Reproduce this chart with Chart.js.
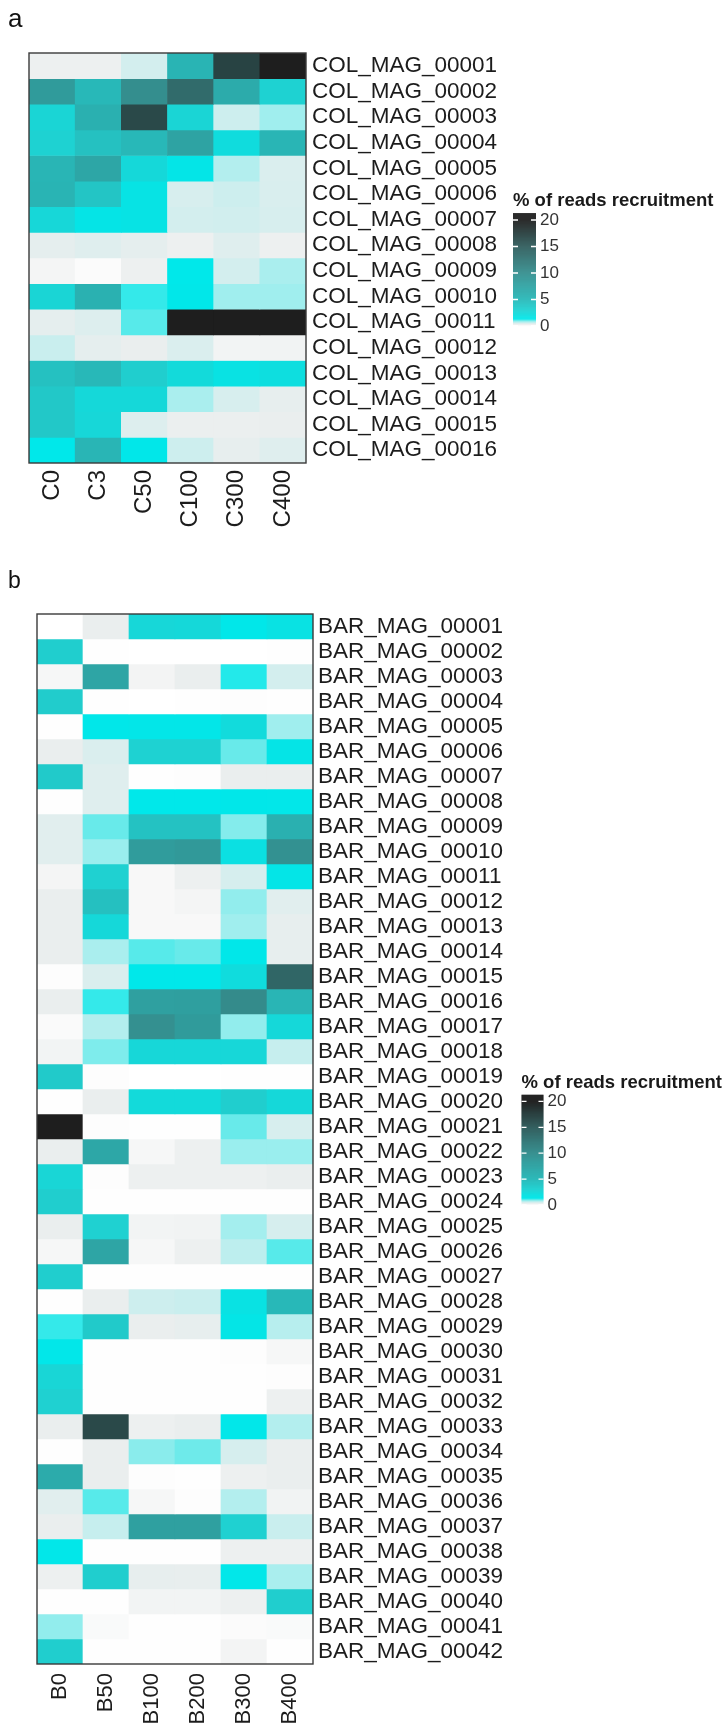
<!DOCTYPE html>
<html>
<head>
<meta charset="utf-8">
<script src="https://cdn.jsdelivr.net/npm/chart.js@4.4.1/dist/chart.umd.min.js"></script>
<style>
  html, body { margin: 0; padding: 0; background: #ffffff; }
  body { width: 727px; height: 1724px; position: relative; overflow: hidden; }
  canvas { position: absolute; left: 0; display: block; }
</style>
</head>
<body>
<canvas id="panelA" width="727" height="560" style="top:0px"></canvas>
<canvas id="panelB" width="727" height="1164" style="top:560px"></canvas>
<script>
// ---- samples (heatmap columns) ----
const colSamples = ['C0', 'C3', 'C50', 'C100', 'C300', 'C400'];
const barSamples = ['B0', 'B50', 'B100', 'B200', 'B300', 'B400'];

// ---- genomes (heatmap rows) ----
const colMags = [
  'COL_MAG_00001', 'COL_MAG_00002', 'COL_MAG_00003', 'COL_MAG_00004',
  'COL_MAG_00005', 'COL_MAG_00006', 'COL_MAG_00007', 'COL_MAG_00008',
  'COL_MAG_00009', 'COL_MAG_00010', 'COL_MAG_00011', 'COL_MAG_00012',
  'COL_MAG_00013', 'COL_MAG_00014', 'COL_MAG_00015', 'COL_MAG_00016'
];
const barMags = [
  'BAR_MAG_00001', 'BAR_MAG_00002', 'BAR_MAG_00003', 'BAR_MAG_00004',
  'BAR_MAG_00005', 'BAR_MAG_00006', 'BAR_MAG_00007', 'BAR_MAG_00008',
  'BAR_MAG_00009', 'BAR_MAG_00010', 'BAR_MAG_00011', 'BAR_MAG_00012',
  'BAR_MAG_00013', 'BAR_MAG_00014', 'BAR_MAG_00015', 'BAR_MAG_00016',
  'BAR_MAG_00017', 'BAR_MAG_00018', 'BAR_MAG_00019', 'BAR_MAG_00020',
  'BAR_MAG_00021', 'BAR_MAG_00022', 'BAR_MAG_00023', 'BAR_MAG_00024',
  'BAR_MAG_00025', 'BAR_MAG_00026', 'BAR_MAG_00027', 'BAR_MAG_00028',
  'BAR_MAG_00029', 'BAR_MAG_00030', 'BAR_MAG_00031', 'BAR_MAG_00032',
  'BAR_MAG_00033', 'BAR_MAG_00034', 'BAR_MAG_00035', 'BAR_MAG_00036',
  'BAR_MAG_00037', 'BAR_MAG_00038', 'BAR_MAG_00039', 'BAR_MAG_00040',
  'BAR_MAG_00041', 'BAR_MAG_00042'
];

// ---- % of reads recruited, one row per genome, one value per sample ----
const colRecruit = [
  [0.25, 0.25, 0.5, 5.5, 17, 21.3],
  [8.5, 5, 10, 13.5, 6.5, 3],
  [2.8, 6, 16.5, 2.8, 0.55, 0.8],
  [3, 4.3, 5, 7.5, 2.2, 5.3],
  [5.3, 7.2, 2.5, 1.5, 0.7, 0.45],
  [5.5, 4, 1.7, 0.47, 0.55, 0.46],
  [2.6, 1.6, 1.7, 0.5, 0.52, 0.47],
  [0.35, 0.4, 0.35, 0.25, 0.4, 0.25],
  [0.15, 0.06, 0.25, 1.3, 0.5, 0.75],
  [2.8, 5.8, 1.15, 1.35, 0.8, 0.8],
  [0.35, 0.42, 1.05, 21.3, 21.3, 21.3],
  [0.58, 0.35, 0.3, 0.45, 0.18, 0.2],
  [4.3, 5, 3.3, 2.4, 1.8, 2.1],
  [3.8, 2.5, 2.5, 0.75, 0.47, 0.33],
  [3.8, 2.6, 0.42, 0.28, 0.28, 0.3],
  [1.3, 5.3, 1.35, 0.55, 0.33, 0.4]
];
const barRecruit = [
  [0, 0.3, 2.6, 2.5, 1.35, 1.8],
  [3.3, 0.02, 0, 0, 0, 0.02],
  [0.12, 7.3, 0.17, 0.3, 1.2, 0.5],
  [3.5, 0.02, 0, 0.01, 0.03, 0.02],
  [0.02, 1.35, 1.45, 1.45, 2.3, 0.8],
  [0.3, 0.45, 3, 3, 1.0, 1.6],
  [3.6, 0.4, 0.02, 0.03, 0.3, 0.3],
  [0.02, 0.4, 1.3, 1.3, 1.35, 1.4],
  [0.38, 1.0, 4.2, 4.2, 0.9, 6],
  [0.38, 0.82, 8.3, 8.7, 1.9, 9.6],
  [0.15, 3.1, 0.1, 0.25, 0.48, 1.5],
  [0.3, 4.4, 0.1, 0.15, 0.85, 0.38],
  [0.3, 2.5, 0.1, 0.1, 0.8, 0.33],
  [0.3, 0.75, 1.05, 1.0, 1.35, 0.33],
  [0.03, 0.45, 1.3, 1.3, 2.2, 14],
  [0.3, 1.15, 7.8, 8, 10.3, 5.3],
  [0.07, 0.7, 9.8, 8.5, 0.85, 2.5],
  [0.18, 0.92, 2.6, 2.6, 2.6, 0.6],
  [3.6, 0.03, 0, 0, 0.02, 0.02],
  [0.02, 0.3, 2.4, 2.4, 3.3, 2.5],
  [20.5, 0.03, 0.02, 0.02, 1.0, 0.47],
  [0.3, 7, 0.12, 0.25, 0.82, 0.82],
  [2.7, 0.03, 0.25, 0.25, 0.25, 0.3],
  [3.3, 0.02, 0.01, 0.01, 0.01, 0.02],
  [0.3, 3.1, 0.18, 0.2, 0.78, 0.48],
  [0.12, 7.3, 0.12, 0.25, 0.65, 1.05],
  [3.3, 0.02, 0.02, 0.02, 0.02, 0.02],
  [0.02, 0.3, 0.55, 0.58, 1.8, 5],
  [1.15, 3.6, 0.3, 0.33, 1.55, 0.68],
  [1.4, 0.02, 0.01, 0.01, 0.03, 0.12],
  [2.7, 0.01, 0.01, 0.01, 0.02, 0.03],
  [3.1, 0.02, 0.01, 0.01, 0.02, 0.25],
  [0.3, 16.5, 0.25, 0.3, 1.4, 0.7],
  [0.02, 0.3, 0.88, 0.98, 0.48, 0.3],
  [6.5, 0.3, 0.03, 0.01, 0.25, 0.3],
  [0.38, 1.05, 0.12, 0.03, 0.7, 0.2],
  [0.3, 0.6, 7.8, 7.8, 3.1, 0.58],
  [1.4, 0.02, 0.02, 0.02, 0.25, 0.25],
  [0.25, 3.3, 0.33, 0.32, 1.4, 0.75],
  [0.01, 0.02, 0.18, 0.18, 0.25, 3.3],
  [0.85, 0.08, 0.02, 0.02, 0.06, 0.08],
  [3.3, 0.02, 0.01, 0.01, 0.17, 0.02]
];

// ---- colour bar ----
const legendTitle = '% of reads recruitment';
const legendTicks = [0, 5, 10, 15, 20];
const legendMax = 21.3;

// fill colour for a recruitment value (white -> cyan -> near black)
const colourStops = [
  [0, '#ffffff'], [0.15, '#f4f5f5'], [0.3, '#eaeeee'], [0.45, '#daeeee'],
  [0.6, '#c6eeee'], [0.8, '#a0eeee'], [1.0, '#68eaea'], [1.3, '#00e8ea'],
  [3, '#1ed2d2'], [5, '#28b8b8'], [10, '#348e8e'], [15, '#2f5c5c'], [20, '#1e1e1e']
];
function hexToRgb(h) {
  return [parseInt(h.slice(1, 3), 16), parseInt(h.slice(3, 5), 16), parseInt(h.slice(5, 7), 16)];
}
const stopRgb = colourStops.map(s => [s[0], hexToRgb(s[1])]);
function colourFor(v) {
  if (v <= stopRgb[0][0]) return colourStops[0][1];
  for (let k = 1; k < stopRgb.length; k++) {
    if (v <= stopRgb[k][0]) {
      const [v0, c0] = stopRgb[k - 1];
      const [v1, c1] = stopRgb[k];
      const t = (v - v0) / (v1 - v0);
      const c = c0.map((x, i) => Math.round(x + (c1[i] - x) * t));
      return `rgb(${c[0]},${c[1]},${c[2]})`;
    }
  }
  return colourStops[colourStops.length - 1][1];
}

const FONT = '"Liberation Sans", Arial, Helvetica, sans-serif';
Chart.defaults.font.family = FONT;
Chart.defaults.color = '#1c1c1c';

// frame, panel letter and colour bar
const heatmapExtras = {
  id: 'heatmapExtras',
  afterDatasetsDraw(chart, args, o) {
    const { ctx, chartArea: a } = chart;
    ctx.save();
    ctx.strokeStyle = '#3a3a3a';
    ctx.lineWidth = 1.4;
    ctx.strokeRect(a.left, a.top, a.right - a.left, a.bottom - a.top);
    ctx.restore();
  },
  afterDraw(chart, args, o) {
    const ctx = chart.ctx;
    ctx.save();
    // panel letter
    ctx.fillStyle = '#111111';
    ctx.font = `${o.letterSize}px ${FONT}`;
    ctx.textAlign = 'left';
    ctx.textBaseline = 'alphabetic';
    ctx.fillText(o.letter, o.letterX, o.letterY);

    // legend title
    ctx.fillStyle = '#1a1a1a';
    ctx.font = `bold 18.5px ${FONT}`;
    ctx.fillText(legendTitle, o.barX, o.titleY);

    // gradient bar
    const yOf = v => o.zeroY - v * o.unit;
    const yTop = yOf(legendMax), yBot = yOf(0);
    for (let y = yTop; y < yBot; y += 1) {
      const v = Math.max(0, (o.zeroY - (y + 0.5)) / o.unit);
      ctx.fillStyle = colourFor(v);
      ctx.fillRect(o.barX, y, o.barW, Math.min(1, yBot - y) + 0.3);
    }
    // tick marks + labels
    ctx.strokeStyle = '#ffffff';
    ctx.lineWidth = 1.3;
    ctx.fillStyle = '#333333';
    ctx.font = `17px ${FONT}`;
    ctx.textBaseline = 'middle';
    legendTicks.forEach(v => {
      const y = yOf(v);
      ctx.beginPath();
      ctx.moveTo(o.barX, y); ctx.lineTo(o.barX + 5, y);
      ctx.moveTo(o.barX + o.barW - 5, y); ctx.lineTo(o.barX + o.barW, y);
      ctx.stroke();
      ctx.fillText(String(v), o.barX + o.barW + 4, y);
    });
    ctx.restore();
  }
};

function drawHeatmap(canvasId, samples, mags, values, lay) {
  const datasets = mags.map((name, i) => ({
    label: name,
    // each cell spans one row band on the row axis
    data: samples.map(() => [i - 0.5, i + 0.5]),
    backgroundColor: values[i].map(colourFor),
    borderWidth: 0,
    grouped: false,
    barPercentage: 1,
    categoryPercentage: 1
  }));
  return new Chart(document.getElementById(canvasId), {
    type: 'bar',
    data: { labels: samples, datasets },
    plugins: [heatmapExtras],
    options: {
      responsive: false,
      animation: false,
      devicePixelRatio: 1,
      layout: { padding: { left: lay.left, top: lay.top, right: 0, bottom: 0 } },
      plugins: {
        legend: { display: false },
        tooltip: { enabled: false },
        heatmapExtras: lay.legend
      },
      scales: {
        x: {
          type: 'category',
          grid: { display: false, drawTicks: false },
          border: { display: false },
          ticks: {
            autoSkip: false,
            minRotation: 90,
            maxRotation: 90,
            padding: lay.xPad,
            color: '#1c1c1c',
            font: { size: lay.xFont, lineHeight: 1 }
          },
          afterFit: s => { s.height = lay.xHeight; }
        },
        y: {
          type: 'linear',
          position: 'right',
          reverse: true,
          min: -0.5,
          max: mags.length - 0.5,
          grid: { display: false, drawTicks: false },
          border: { display: false },
          afterBuildTicks: s => { s.ticks = mags.map((_, i) => ({ value: i })); },
          ticks: {
            autoSkip: false,
            padding: lay.yPad,
            color: '#1c1c1c',
            font: { size: lay.yFont, lineHeight: 1 },
            callback: v => mags[Math.round(v)]
          },
          afterFit: s => { s.width = lay.yWidth; }
        }
      }
    }
  });
}

drawHeatmap('panelA', colSamples, colMags, colRecruit, {
  left: 29, top: 53, yWidth: 421, xHeight: 97, xPad: 7, yPad: 6, xFont: 24, yFont: 22.5,
  legend: { letter: 'a', letterX: 8, letterY: 27, letterSize: 26,
            barX: 513, barW: 23, titleY: 206, zeroY: 326, unit: 5.3 }
});

drawHeatmap('panelB', barSamples, barMags, barRecruit, {
  left: 37, top: 54, yWidth: 414, xHeight: 60, xPad: 9, yPad: 5, xFont: 22, yFont: 22.5,
  legend: { letter: 'b', letterX: 8, letterY: 28, letterSize: 23,
            barX: 521.5, barW: 22, titleY: 528, zeroY: 645, unit: 5.18 }
});
</script>
</body>
</html>
